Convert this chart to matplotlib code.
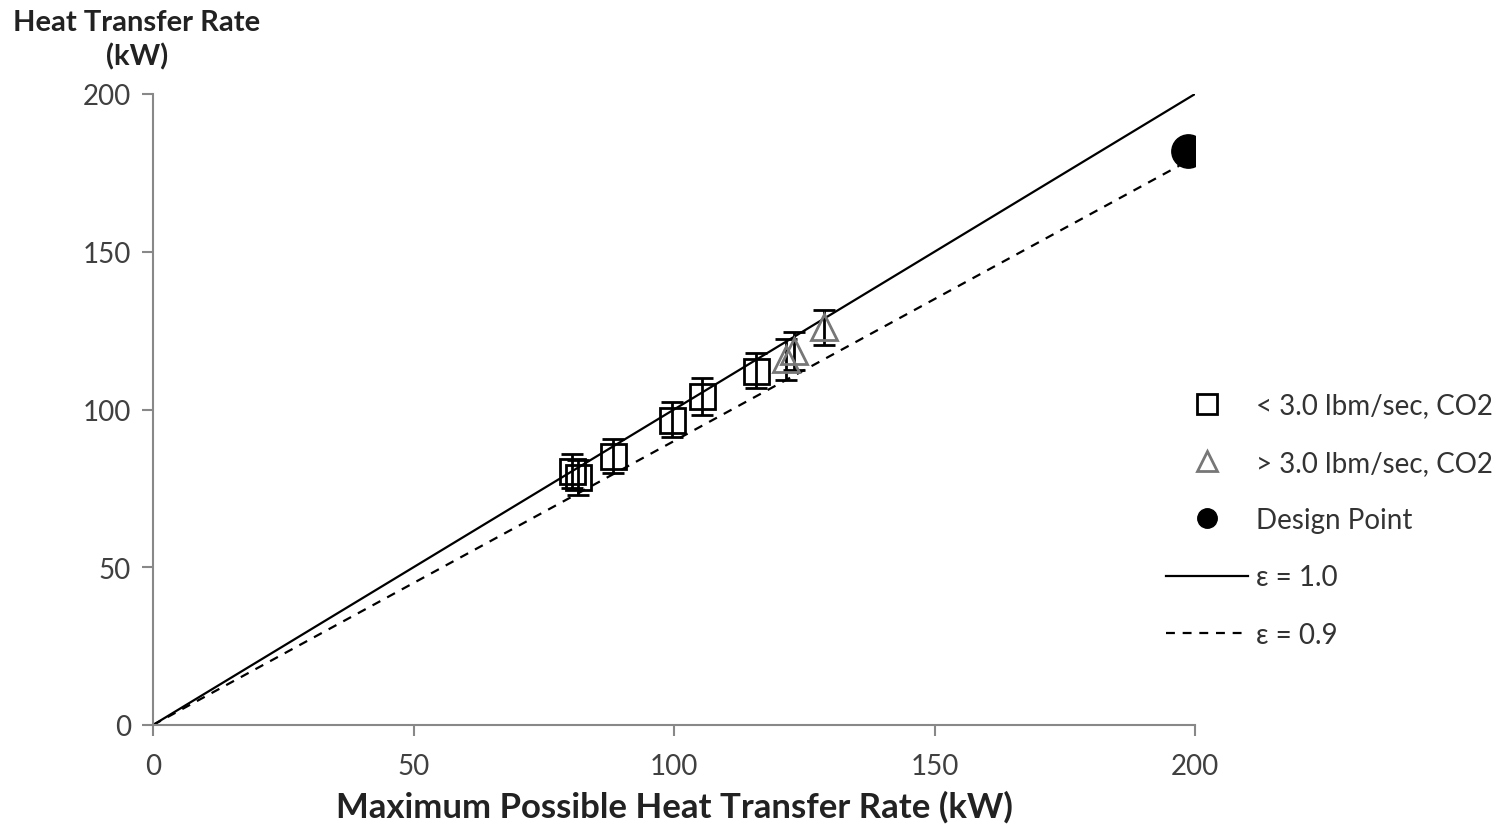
import numpy as np
import matplotlib.pyplot as plt
from matplotlib.lines import Line2D

plt.rcParams['font.family'] = ['Lato', 'DejaVu Sans']

# < 3.0 lbm/sec (squares)
sq_x = [80.5, 81.5, 88.3, 99.7, 105.3, 115.7]
sq_y = [80.5, 78.5, 85.3, 96.8, 104.2, 112.3]
sq_err = [5.5, 5.5, 5.5, 5.5, 5.8, 5.5]

# > 3.0 lbm/sec (triangles)
tr_x = [121.5, 123.0, 128.7]
tr_y = [116.0, 118.5, 126.0]
tr_err = [6.5, 6.0, 5.5]

# design point
dp_x = [198.7]
dp_y = [181.9]

line_x = [0, 200]
dash_x = [0, 197]

fig = plt.figure(figsize=(15.1, 8.29), dpi=100)
ax = fig.add_axes([153/1510, 1-726/829, 1042/1510, 631/829])

ax.plot(line_x, [v*1.0 for v in line_x], color='black', lw=1.6)
ax.plot(dash_x, [v*0.9 for v in dash_x], color='black', lw=1.6, ls=(0, (4, 3.5)))

ax.errorbar(sq_x, sq_y, yerr=sq_err, fmt='s', ms=18, mfc='none', mec='black', mew=2,
            ecolor='black', elinewidth=2, capsize=8, capthick=2)
ax.errorbar(tr_x, tr_y, yerr=tr_err, fmt='^', ms=19, mfc='none', mec='#777777', mew=2,
            ecolor='black', elinewidth=2, capsize=8, capthick=2)
ax.plot(dp_x, dp_y, 'o', ms=24, color='black')

ax.set_xlim(0, 200)
ax.set_ylim(0, 200)
ax.set_xticks([0, 50, 100, 150, 200])
ax.set_yticks([0, 50, 100, 150, 200])
for s in ['top', 'right']:
    ax.spines[s].set_visible(False)
for s in ['left', 'bottom']:
    ax.spines[s].set_color('#888888')
    ax.spines[s].set_linewidth(1.5)
ax.tick_params(direction='out', length=8, width=1.5, color='#888888',
               labelsize=20, labelcolor='#404040')
ax.tick_params(axis='x', pad=12)
ax.tick_params(axis='y', pad=8)

ax.set_xlabel('Maximum Possible Heat Transfer Rate (kW)', fontsize=25, fontweight='bold',
              color='#222222', labelpad=8)
fig.text(137/1510, 1-40/829, 'Heat Transfer Rate\n(kW)', ha='center', va='center',
         fontsize=21, fontweight='bold', color='#222222', linespacing=1.35)

handles = [
    Line2D([], [], ls='none', marker='s', ms=14, mfc='none', mec='black', mew=2),
    Line2D([], [], ls='none', marker='^', ms=15, mfc='none', mec='#777777', mew=2),
    Line2D([], [], ls='none', marker='o', ms=14, color='black'),
    Line2D([], [], color='black', lw=1.6),
    Line2D([], [], color='black', lw=1.6, ls=(0, (4, 3.5))),
]
labels = ['< 3.0 lbm/sec, CO2', '> 3.0 lbm/sec, CO2', 'Design Point', 'ε = 1.0', 'ε = 0.9']
leg = fig.legend(handles, labels, loc='center left', bbox_to_anchor=(1166/1510, 1-521/829),
                 frameon=False, fontsize=20, handlelength=2.95, handletextpad=0.3,
                 labelspacing=1.13, borderpad=0, borderaxespad=0)
for t in leg.get_texts():
    t.set_color('#333333')

fig.savefig('out.png', dpi=100)
